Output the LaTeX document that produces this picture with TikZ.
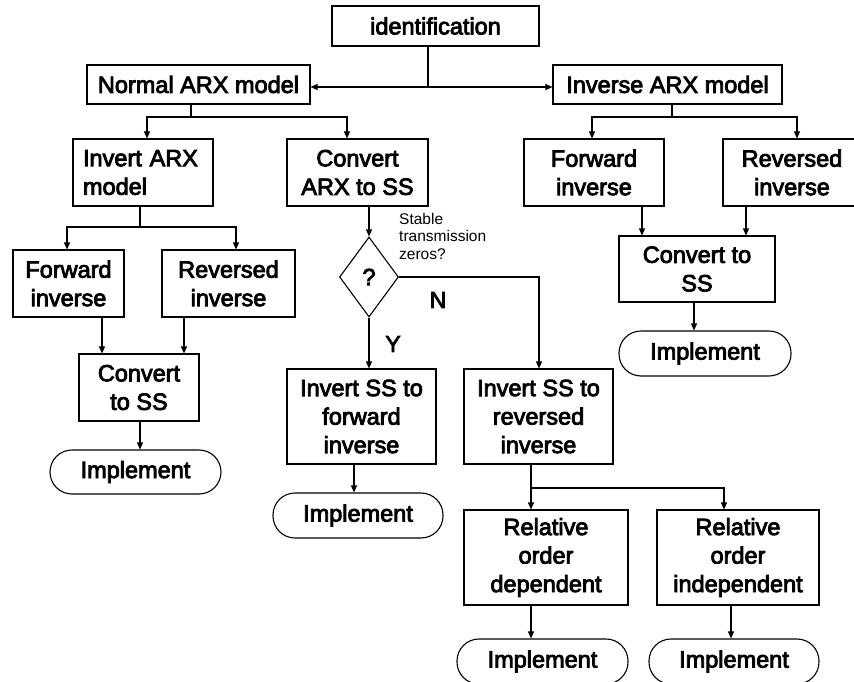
\documentclass[tikz,border=0pt]{standalone}
\usepackage{fontspec}
\setmainfont{Liberation Sans}[FakeBold=3.5]
\newfontfamily\notefont{Liberation Sans}
\usetikzlibrary{arrows.meta,shapes.geometric}
\begin{document}
\begin{tikzpicture}[x=1pt,y=-1pt,
  box/.style={draw, line width=1.1pt, rectangle, inner sep=0pt, align=center,
    font=\fontsize{23.5}{28.5}\selectfont},
  term/.style={draw, line width=1.1pt, rectangle, rounded corners=22pt, inner sep=0pt,
    font=\fontsize{23.5}{28.5}\selectfont},
  decision/.style={draw, line width=1.1pt, diamond, inner sep=0pt,
    font=\fontsize{23.5}{28.5}\selectfont},
  tag/.style={inner sep=0pt, font=\fontsize{23}{28}\selectfont},
  note/.style={inner sep=0pt, align=left, font=\notefont\fontsize{15.5}{17.5}\selectfont},
  plain/.style={line width=1.1pt},
  link/.style={line width=1.1pt, -{Triangle[length=7pt,width=6pt]}}]

\fill[white] (0,0) rectangle (854,682);
\useasboundingbox (0,0) rectangle (854,682);

% ---------- top level ----------
\node[box, minimum width=207pt, minimum height=40pt] (ident) at (435.5,26) {identification};
\node[box, minimum width=223pt, minimum height=39pt] (normal) at (198.5,84.5) {Normal ARX model};
\node[box, minimum width=229pt, minimum height=39pt] (inverse) at (667.5,84.5) {Inverse ARX model};

% ---------- normal ARX branch ----------
\node[box, text width=120pt, inner xsep=10pt, align=left, minimum height=67pt] (invarx) at (143,172.5) {Invert ARX\\model};
\node[box, minimum width=141pt, minimum height=67pt] (cvtarx) at (357.5,172.5) {Convert\\ARX to SS};
\node[box, minimum width=111pt, minimum height=67pt] (fwdL) at (68.5,283.5) {Forward\\inverse};
\node[box, minimum width=133pt, minimum height=67pt] (revL) at (228.5,283.5) {Reversed\\inverse};
\node[box, minimum width=120pt, minimum height=67pt] (cvtL) at (139,387.5) {Convert\\to SS};
\node[term, minimum width=171pt, minimum height=44pt] (impL) at (135.5,472) {Implement\hspace{12pt}};

% ---------- state-space branch ----------
\node[decision, minimum width=59pt, minimum height=80pt] (zeros) at (369,277) {?};
\node[note, anchor=north west] (question) at (399,213) {Stable\\transmission\\zeros?};
\node[box, minimum width=149pt, minimum height=95pt] (ssfwd) at (361.5,416.5) {Invert SS to\\forward\\inverse};
\node[box, minimum width=149pt, minimum height=95pt] (ssrev) at (538.5,416.5) {Invert SS to\\reversed\\inverse};
\node[term, minimum width=170pt, minimum height=45pt] (impM) at (358,515.5) {Implement\hspace{12pt}};
\node[box, minimum width=164pt, minimum height=95pt] (dep) at (546,557.5) {Relative\\order\\dependent};
\node[box, minimum width=162pt, minimum height=95pt] (indep) at (738,557.5) {Relative\\order\\independent};
\node[term, minimum width=171pt, minimum height=45pt] (impD) at (542.5,661.5) {Implement\hspace{12pt}};
\node[term, minimum width=170pt, minimum height=45pt] (impI) at (734,661.5) {Implement\hspace{12pt}};
\node[tag] (yes) at (393,344) {Y};
\node[tag] (no) at (438,300) {N};

% ---------- inverse ARX branch ----------
\node[box, minimum width=140pt, minimum height=67pt] (fwdR) at (594,172.5) {Forward\\inverse};
\node[box, minimum width=138pt, minimum height=67pt] (revR) at (792,172.5) {Reversed\\inverse};
\node[box, minimum width=156pt, minimum height=66pt] (cvtR) at (697,269) {Convert to\\SS};
\node[term, minimum width=172pt, minimum height=45pt] (impR) at (705,353.5) {Implement\hspace{12pt}};

% ---------- junctions and connector columns ----------
\coordinate (jTop) at (428,87);
\coordinate (jN) at (191,117);
\coordinate (jI) at (672,117);
\coordinate (jA) at (140,227);
\coordinate (jS) at (531,488);
\coordinate (nTurn) at (539,277);
\coordinate (xInv) at (147,0);
\coordinate (xCvt) at (347,0);
\coordinate (xFwdL) at (67,0);
\coordinate (xRevL) at (236,0);
\coordinate (xFL) at (102,0);
\coordinate (xRL) at (184,0);
\coordinate (xCL) at (140,0);
\coordinate (xSF) at (354,0);
\coordinate (xInd) at (724,0);
\coordinate (xImI) at (731,0);
\coordinate (xFR) at (592,0);
\coordinate (xRR) at (797,0);
\coordinate (xF2) at (642,0);
\coordinate (xR2) at (746,0);
\coordinate (xC2) at (694,0);

% identification to both models
\draw[plain] (ident.south -| jTop) -- (jTop);
\draw[link] (jTop) -- (normal.east |- jTop);
\draw[link] (jTop) -- (inverse.west |- jTop);

% normal ARX model split
\draw[plain] (normal.south -| jN) -- (jN);
\draw[link] (jN) -| (invarx.north -| xInv);
\draw[link] (jN) -| (cvtarx.north -| xCvt);

% invert ARX model split
\draw[plain] (invarx.south -| jA) -- (jA);
\draw[link] (jA) -| (fwdL.north -| xFwdL);
\draw[link] (jA) -| (revL.north -| xRevL);
\draw[link] (fwdL.south -| xFL) -- (cvtL.north -| xFL);
\draw[link] (revL.south -| xRL) -- (cvtL.north -| xRL);
\draw[link] (cvtL.south -| xCL) -- (impL.north -| xCL);

% state-space decision
\draw[link] (cvtarx.south -| zeros) -- (zeros.north);
\draw[link] (zeros.south) -- (ssfwd.north -| zeros);
\draw[link] (zeros.east) -| (ssrev.north -| nTurn);
\draw[link] (ssfwd.south -| xSF) -- (impM.north -| xSF);
\draw[plain] (ssrev.south -| jS) -- (jS);
\draw[link] (jS) -- (dep.north -| jS);
\draw[link] (jS) -| (indep.north -| xInd);
\draw[link] (dep.south -| jS) -- (impD.north -| jS);
\draw[link] (indep.south -| xImI) -- (impI.north -| xImI);

% inverse ARX model split
\draw[plain] (inverse.south -| jI) -- (jI);
\draw[link] (jI) -| (fwdR.north -| xFR);
\draw[link] (jI) -| (revR.north -| xRR);
\draw[link] (fwdR.south -| xF2) -- (cvtR.north -| xF2);
\draw[link] (revR.south -| xR2) -- (cvtR.north -| xR2);
\draw[link] (cvtR.south -| xC2) -- (impR.north -| xC2);
\end{tikzpicture}
\end{document}
